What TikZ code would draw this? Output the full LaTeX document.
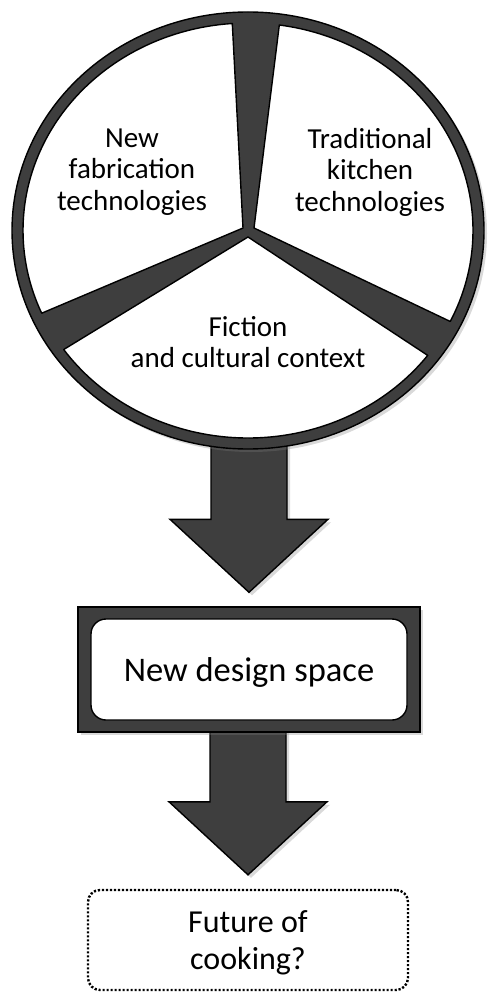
\documentclass[tikz,border=0pt]{standalone}
\usepackage{fontspec}
\setmainfont{Carlito}
\usetikzlibrary{calc,shapes.geometric,shadows}

\definecolor{ringgray}{RGB}{62,62,62}
\pgfdeclarelayer{background}
\pgfsetlayers{background,main}

\tikzset{
  softshadow/.style={drop shadow={opacity=0.3, shadow xshift=3pt, shadow yshift=-3pt}},
  sector/.style={draw=black, line width=1.4pt, fill=white, line join=round},
  wheeltext/.style={font=\fontsize{29}{31.5}\selectfont, align=center, inner sep=0pt},
  arrowbody/.style={draw=black, line width=1.4pt, fill=ringgray, line join=miter, softshadow},
}

% block arrow: #1 = where the shaft starts, #2 = tip
\newcommand{\bigarrow}[2]{%
  \draw[arrowbody] ($(#2 |- #1)+(-38,0)$) -- ($(#2)+(-38,-73)$) -- ($(#2)+(-79,-73)$) -- (#2)
    -- ($(#2)+(79,-73)$) -- ($(#2)+(38,-73)$) -- ($(#2 |- #1)+(38,0)$) -- cycle;}

\begin{document}
\begin{tikzpicture}[x=1pt,y=1pt,yscale=-1]
\useasboundingbox (0,0) rectangle (488,992);

%Shape: Ellipse (outer ring)
\coordinate (hub) at (248,230.5);
\node[ellipse, draw, line width=1.4pt, fill=ringgray, minimum width=472pt, minimum height=437pt, inner sep=0pt, softshadow] (wheel) at (hub) {};

%Shape: Sectors
\draw[sector] ($(hub)+(-5,-2.5)$) -- ($(hub)+(-94:225 and 207.5)$) arc[start angle=-94, end angle=-203.5, x radius=225, y radius=207.5] -- cycle;
\draw[sector] ($(hub)+(6,-2.5)$) -- ($(hub)+(-82:225 and 207.5)$) arc[start angle=-82, end angle=26, x radius=225, y radius=207.5] -- cycle;
\draw[sector] ($(hub)+(0,6.5)$) -- ($(hub)+(37:225 and 207.5)$) arc[start angle=37, end angle=145, x radius=225, y radius=207.5] -- cycle;

% Text Node
\node[wheeltext] (fab) at (132,172) {New\\fabrication\\technologies};
% Text Node
\node[wheeltext] (kitchen) at (370,172) {Traditional\\kitchen\\technologies};
% Text Node
\node[wheeltext] (fiction) at (248,342) {Fiction\\and cultural context};

%Shape: Rectangle (frame)
\node[draw, line width=1.4pt, fill=ringgray, minimum width=342pt, minimum height=125pt, inner sep=0pt, softshadow] (frame) at (249,669.5) {};
% Text Node
\node[draw, line width=1.4pt, fill=white, rounded corners=15pt, minimum width=316pt, minimum height=101pt, inner sep=0pt, text depth=0pt, font=\fontsize{34.5}{40}\selectfont] (space) at (frame.center) {New design space};

% Text Node
\node[draw, dash pattern=on 2.2pt off 1.8pt, line width=2.4pt, rounded corners=12pt, minimum width=320pt, minimum height=100pt, align=center, text depth=0pt, font=\fontsize{32}{37}\selectfont] (future) at (248,940) {Future of\\cooking?};

%Shape: Arrows
\coordinate (tip1) at ($(frame.north)+(0,-14)$);
\coordinate (tip2) at ($(future.north)+(0,-14)$);
\begin{pgfonlayer}{background}
\bigarrow{wheel.center}{tip1}
\bigarrow{frame.center}{tip2}
\end{pgfonlayer}

\end{tikzpicture}
\end{document}
